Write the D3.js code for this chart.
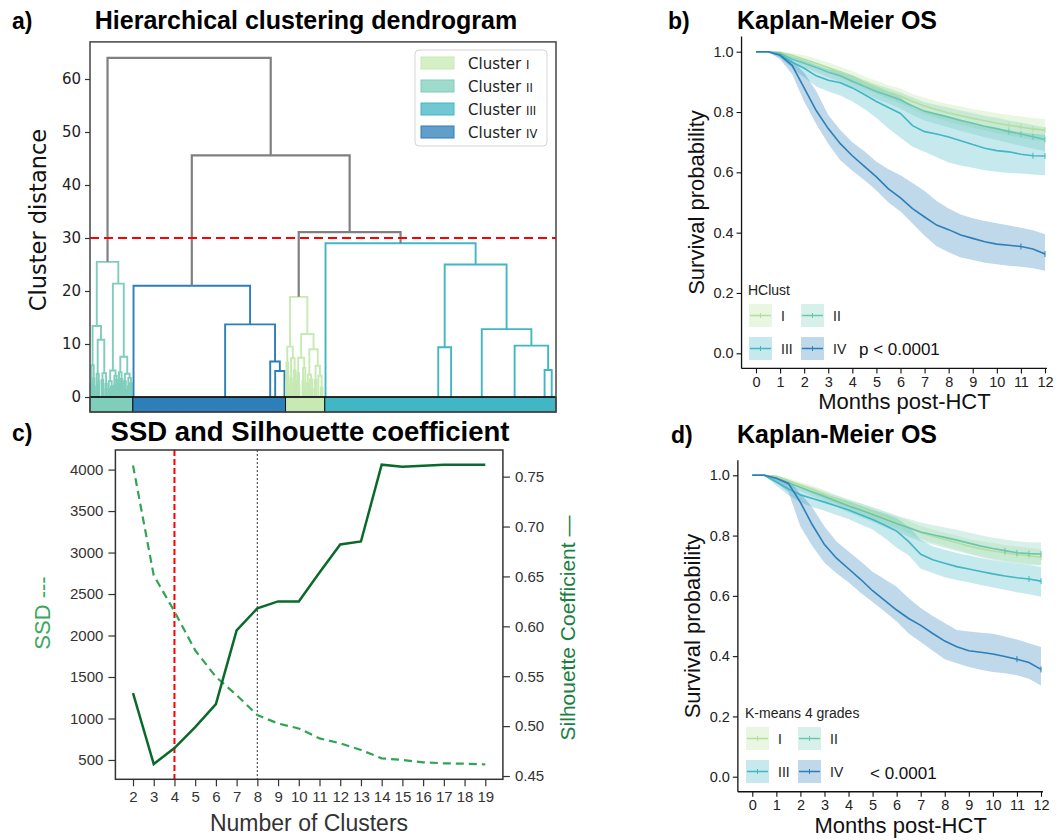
<!DOCTYPE html>
<html>
<head>
<meta charset="utf-8">
<script src="https://cdn.jsdelivr.net/npm/d3@7"></script>
<style>
  body { margin: 0; background: #fff; }
  text { font-family: "Liberation Sans", Arial, sans-serif; }
  .mpl text { font-family: "DejaVu Sans", sans-serif; }
</style>
</head>
<body>
<svg id="fig" width="1057" height="840"></svg>
<script>
// ---------- data: a) dendrogram ----------
// internal node = [height, left, right]; leaf = position along the leaf axis (0-100)
const clusterII = [25.5,
  [13.4, [6.0, [2.5, 0.15, 0.45], [3.5, 0.65, [1.5, 0.85, 1.05]]],
         [10.8, [4.4, [2.0, 1.3, 1.55], [3.0, 1.75, 2.0]],
                [4.5, [3.2, 2.5, [1.4, 2.75, 2.95]], [2.5, 3.3, 3.6]]]],
  [21.4, [5.0, [3.0, [1.5, 3.9, 4.15], [2.0, 4.5, 4.8]], [4.0, [2.2, 5.1, 5.35], [3.2, 5.6, 5.85]]],
         [7.6, [4.7, [2.4, 6.1, 6.35], [3.4, 6.6, [1.6, 6.85, 7.05]]],
               [4.4, [3.0, 7.3, [1.4, 7.55, 7.8]], [3.6, [2.0, 8.1, 8.35], [2.6, 8.6, 8.95]]]]]];
const clusterIV = [21, 9.34, [13.7, 29.0, [6.7, 38.67, [4.9, 39.74, 41.73]]]];
const clusterI = [18.9,
  [9.5, [6.5, [3.0, 42.05, 42.25], [4.0, 42.4, [2.0, 42.55, 42.7]]],
        [7.3, [3.5, 43.0, 43.3], [5.0, [2.5, 43.6, 43.8], [3.0, 44.0, 44.2]]]],
  [11.9, [7.4, [4.5, 44.5, [2.2, 44.75, 44.95]], [5.5, [3.0, 45.6, 45.85], [2.0, 46.1, 46.3]]],
         [9.0, [4.2, [2.6, 46.6, 46.85], [3.3, 47.2, [1.5, 47.5, 47.8]]],
               [5.9, [3.2, 48.2, 48.6], [4.0, 49.0, [1.8, 49.5, 49.9]]]]]];
const clusterIII = [29, 50.54, [25, [9.4, 74.73, 77.49], [12.8, 84.07, [9.7, 91.12, [5.1, 97.55, 99.08]]]]];
const topTree = [64, "II", [45.6, "IV", [31.1, "I", "III"]]];
const cutHeight = 30;
const clusterNames = ["I", "II", "III", "IV"];
const barOrder = ["II", "IV", "I", "III"];
const barEdges = [0, 9.19, 41.96, 50.38, 100];
const distTicks = [0, 10, 20, 30, 40, 50, 60];

// ---------- data: c) SSD and silhouette ----------
const clusterCounts = [2, 3, 4, 5, 6, 7, 8, 9, 10, 11, 12, 13, 14, 15, 16, 17, 18, 19];
const ssd = [4050, 2725, 2290, 1822, 1502, 1281, 1041, 940, 880, 760, 700, 620, 520, 500, 472, 460, 455, 447];
const silhouette = [0.533, 0.462, 0.478, 0.499, 0.522, 0.596, 0.618, 0.625, 0.625, 0.654, 0.682, 0.685, 0.762, 0.760, 0.761, 0.762, 0.762, 0.762];
const ssdTicks = [500, 1000, 1500, 2000, 2500, 3000, 3500, 4000];
const silTicks = [0.45, 0.5, 0.55, 0.6, 0.65, 0.7, 0.75];
const chosenK = 4, elbowK = 8;

// ---------- data: b) and d) Kaplan-Meier ----------
const months = [0, 0.5, 1, 1.5, 2, 2.5, 3, 3.5, 4, 4.5, 5, 5.5, 6, 6.5, 7, 7.5, 8, 8.5, 9, 9.5, 10, 10.5, 11, 11.5, 12];
const monthTicks = [0, 1, 2, 3, 4, 5, 6, 7, 8, 9, 10, 11, 12];
const survTicks = [0, 0.2, 0.4, 0.6, 0.8, 1.0];

const hcI     = [1,1,0.998,0.988,0.975,0.962,0.948,0.932,0.915,0.898,0.882,0.866,0.853,0.835,0.82,0.808,0.797,0.788,0.779,0.771,0.763,0.756,0.75,0.744,0.74];
const hcILo   = [1,1,0.993,0.978,0.962,0.947,0.932,0.914,0.895,0.877,0.86,0.843,0.828,0.81,0.793,0.78,0.768,0.758,0.748,0.739,0.73,0.722,0.715,0.708,0.703];
const hcIHi   = [1,1,1,0.996,0.988,0.977,0.964,0.95,0.935,0.919,0.904,0.889,0.878,0.86,0.847,0.836,0.826,0.818,0.81,0.803,0.796,0.79,0.785,0.78,0.777];
const hcII    = [1,1,0.995,0.975,0.962,0.948,0.932,0.92,0.902,0.885,0.868,0.855,0.84,0.82,0.803,0.793,0.783,0.772,0.763,0.753,0.745,0.735,0.727,0.718,0.709];
const hcIILo  = [1,1,0.99,0.965,0.948,0.932,0.915,0.9,0.88,0.862,0.843,0.828,0.812,0.79,0.772,0.76,0.749,0.737,0.727,0.716,0.707,0.697,0.688,0.679,0.67];
const hcIIHi  = [1,1,1,0.985,0.975,0.963,0.948,0.938,0.922,0.906,0.891,0.879,0.865,0.848,0.832,0.823,0.815,0.805,0.797,0.788,0.781,0.772,0.765,0.757,0.749];
const hcIII   = [1,1,0.99,0.965,0.945,0.92,0.905,0.897,0.88,0.858,0.835,0.815,0.795,0.755,0.735,0.727,0.717,0.705,0.692,0.68,0.672,0.668,0.66,0.655,0.654];
const hcIIILo = [1,1,0.98,0.945,0.915,0.885,0.868,0.855,0.835,0.81,0.78,0.745,0.715,0.685,0.668,0.65,0.633,0.623,0.615,0.607,0.602,0.598,0.596,0.593,0.59];
const hcIIIHi = [1,1,1,0.985,0.972,0.955,0.942,0.935,0.922,0.902,0.885,0.868,0.85,0.815,0.8,0.795,0.785,0.775,0.765,0.753,0.745,0.74,0.733,0.728,0.725];
const hcIV    = [1,1,0.988,0.955,0.88,0.805,0.745,0.695,0.655,0.62,0.585,0.545,0.515,0.48,0.452,0.425,0.41,0.392,0.381,0.37,0.362,0.358,0.354,0.346,0.329];
const hcIVLo  = [1,1,0.975,0.925,0.835,0.76,0.695,0.64,0.605,0.575,0.54,0.5,0.47,0.43,0.39,0.355,0.335,0.318,0.309,0.3,0.295,0.29,0.287,0.282,0.274];
const hcIVHi  = [1,1,0.995,0.97,0.93,0.87,0.79,0.74,0.7,0.67,0.635,0.61,0.59,0.565,0.538,0.505,0.48,0.46,0.448,0.439,0.431,0.424,0.416,0.408,0.395];

const kmI     = [1,1,0.995,0.982,0.968,0.953,0.937,0.92,0.905,0.89,0.875,0.86,0.845,0.828,0.81,0.798,0.787,0.776,0.765,0.756,0.749,0.743,0.737,0.733,0.728];
const kmILo   = [1,1,0.99,0.973,0.957,0.94,0.922,0.905,0.888,0.872,0.856,0.84,0.825,0.807,0.789,0.776,0.764,0.752,0.741,0.731,0.723,0.716,0.71,0.706,0.702];
const kmIHi   = [1,1,1,0.99,0.978,0.965,0.951,0.935,0.921,0.907,0.893,0.879,0.865,0.849,0.832,0.82,0.81,0.8,0.789,0.781,0.775,0.769,0.764,0.76,0.755];
const kmII    = [1,1,0.99,0.975,0.96,0.945,0.93,0.914,0.898,0.885,0.87,0.855,0.84,0.826,0.812,0.803,0.794,0.785,0.775,0.765,0.757,0.75,0.743,0.74,0.739];
const kmIILo  = [1,1,0.983,0.965,0.947,0.93,0.913,0.895,0.877,0.862,0.845,0.828,0.812,0.796,0.78,0.77,0.759,0.749,0.738,0.728,0.719,0.712,0.705,0.702,0.7];
const kmIIHi  = [1,1,0.997,0.985,0.972,0.96,0.946,0.932,0.918,0.907,0.894,0.881,0.867,0.855,0.843,0.835,0.827,0.819,0.81,0.801,0.793,0.787,0.781,0.778,0.777];
const kmIII   = [1,1,0.978,0.955,0.935,0.923,0.911,0.898,0.885,0.869,0.853,0.835,0.815,0.78,0.738,0.72,0.708,0.697,0.689,0.681,0.673,0.666,0.66,0.656,0.649];
const kmIIILo = [1,1,0.965,0.935,0.91,0.895,0.882,0.868,0.855,0.837,0.82,0.792,0.76,0.735,0.69,0.676,0.662,0.653,0.645,0.636,0.628,0.62,0.612,0.605,0.597];
const kmIIIHi = [1,1,0.99,0.972,0.958,0.948,0.938,0.926,0.914,0.9,0.886,0.873,0.858,0.83,0.785,0.765,0.753,0.742,0.734,0.726,0.718,0.712,0.706,0.702,0.696];
const kmIV    = [1,1,0.99,0.973,0.91,0.835,0.77,0.725,0.69,0.655,0.617,0.585,0.553,0.525,0.502,0.475,0.45,0.431,0.418,0.413,0.407,0.399,0.39,0.379,0.356];
const kmIVLo  = [1,1,0.975,0.945,0.83,0.765,0.71,0.675,0.645,0.61,0.58,0.548,0.515,0.475,0.447,0.418,0.39,0.376,0.364,0.355,0.347,0.343,0.337,0.325,0.303];
const kmIVHi  = [1,1,1,0.985,0.94,0.893,0.83,0.78,0.747,0.715,0.68,0.655,0.63,0.592,0.56,0.533,0.51,0.487,0.482,0.478,0.474,0.465,0.455,0.443,0.43];

// censoring marks (months) drawn on each curve
const censorI = [10.5, 11, 11.5, 12];
const censorII = [10.5, 11, 11.5, 12];
const censorIII = [11.5, 12];
const censorIV = [11, 12];

const clusterColor = { I: "#c7e9b4", II: "#7fcdbb", III: "#41b6c4", IV: "#2c7fb8" };
const lineColor = { I: "#b2df9d", II: "#6cc5ad", III: "#41b6c4", IV: "#2c7fb8" };

const svg = d3.select("#fig");

// ================= a) dendrogram =================
const gA = svg.append("g").attr("class", "mpl");
const ax = d3.scaleLinear().domain([0, 100]).range([90, 556]);
const ay = d3.scaleLinear().domain([0, 60]).range([397, 79]);
const trees = { I: clusterI, II: clusterII, III: clusterIII, IV: clusterIV };

const links = [];
function walk(node, color) {
  if (typeof node === "string") return walk(trees[node], clusterColor[node]);
  if (typeof node === "number") return { x: node, h: 0 };
  const l = walk(node[1], color), r = walk(node[2], color);
  links.push({ l, r, h: node[0], color });
  return { x: (l.x + r.x) / 2, h: node[0] };
}
walk(topTree, "#808080");

gA.selectAll("path.link").data(links).enter().append("path")
  .attr("class", "link")
  .attr("d", d => `M${ax(d.l.x)},${ay(d.l.h)}V${ay(d.h)}H${ax(d.r.x)}V${ay(d.r.h)}`)
  .attr("fill", "none")
  .attr("stroke", d => d.color)
  .attr("stroke-width", d => d.color === "#808080" ? 2.2 : 1.9);

// colour bar under the leaves
gA.selectAll("rect.bar").data(barOrder).enter().append("rect")
  .attr("class", "bar")
  .attr("x", (d, i) => ax(barEdges[i]))
  .attr("width", (d, i) => ax(barEdges[i + 1]) - ax(barEdges[i]))
  .attr("y", ay(0)).attr("height", 15)
  .attr("fill", d => clusterColor[d])
  .attr("stroke", "#111").attr("stroke-width", 1);

gA.append("line").attr("x1", ax(0)).attr("x2", ax(100)).attr("y1", ay(0)).attr("y2", ay(0))
  .attr("stroke", "#111").attr("stroke-width", 1.5);

gA.append("line").attr("x1", ax(0)).attr("x2", ax(100)).attr("y1", ay(cutHeight)).attr("y2", ay(cutHeight))
  .attr("stroke", "#ff0000").attr("stroke-width", 2).attr("stroke-dasharray", "9,5");

gA.append("rect").attr("x", ax(0)).attr("y", ay(67)).attr("width", ax(100) - ax(0)).attr("height", ay(0) + 15 - ay(67))
  .attr("fill", "none").attr("stroke", "#444").attr("stroke-width", 1.5);

const aAxis = gA.append("g").attr("transform", `translate(${ax(0)},0)`)
  .call(d3.axisLeft(ay).tickValues(distTicks).tickSize(5).tickPadding(4));
aAxis.select(".domain").remove();
aAxis.selectAll("line").attr("stroke", "#333").attr("stroke-width", 1.2);
aAxis.selectAll("text").attr("font-size", 15).attr("fill", "#222");

gA.append("text").attr("transform", `translate(38,220) rotate(-90)`)
  .attr("text-anchor", "middle").attr("dominant-baseline", "central")
  .attr("font-size", 22.5).attr("fill", "#111").text("Cluster distance");

// legend
const legA = gA.append("g");
legA.append("rect").attr("x", 415).attr("y", 50).attr("width", 132).attr("height", 96).attr("rx", 4)
  .attr("fill", "#fff").attr("fill-opacity", 0.85).attr("stroke", "#d5d5d5").attr("stroke-width", 1);
clusterNames.forEach((c, i) => {
  const cy = 63 + i * 23;
  legA.append("rect").attr("x", 421).attr("y", cy - 6).attr("width", 33).attr("height", 12)
    .attr("fill", clusterColor[c]).attr("fill-opacity", 0.75).attr("stroke", clusterColor[c]).attr("stroke-width", 1);
  const t = legA.append("text").attr("x", 468).attr("y", cy + 5.5).attr("font-size", 15).attr("fill", "#222");
  t.append("tspan").text("Cluster ");
  t.append("tspan").attr("font-size", 11.5).text(c);
});

// ================= c) SSD and silhouette =================
const gC = svg.append("g");
const cx = d3.scaleLinear().domain([1.15, 19.85]).range([115.4, 502.9]);
const cyL = d3.scaleLinear().domain([267, 4236]).range([779.3, 450]);
const cyR = d3.scaleLinear().domain([0.4467, 0.7767]).range([779.3, 450]);

gC.append("line").attr("x1", cx(chosenK)).attr("x2", cx(chosenK)).attr("y1", 450).attr("y2", 779.3)
  .attr("stroke", "#ff0000").attr("stroke-width", 2).attr("stroke-dasharray", "6,3");
gC.append("line").attr("x1", cx(elbowK)).attr("x2", cx(elbowK)).attr("y1", 450).attr("y2", 779.3)
  .attr("stroke", "#555").attr("stroke-width", 1.2).attr("stroke-dasharray", "2,2");

gC.append("path").datum(ssd)
  .attr("d", d3.line().x((d, i) => cx(clusterCounts[i])).y(d => cyL(d)))
  .attr("fill", "none").attr("stroke", "#31a354").attr("stroke-width", 2.2).attr("stroke-dasharray", "8,5");
gC.append("path").datum(silhouette)
  .attr("d", d3.line().x((d, i) => cx(clusterCounts[i])).y(d => cyR(d)))
  .attr("fill", "none").attr("stroke", "#0b6a2b").attr("stroke-width", 2.5);

gC.append("rect").attr("x", 115.4).attr("y", 450).attr("width", 502.9 - 115.4).attr("height", 779.3 - 450)
  .attr("fill", "none").attr("stroke", "#333").attr("stroke-width", 1.5);

function styleC(g) {
  g.select(".domain").remove();
  g.selectAll("line").attr("stroke", "#333").attr("stroke-width", 1.2);
  g.selectAll("text").attr("font-size", 15).attr("fill", "#333");
}
gC.append("g").attr("transform", "translate(0,779.3)")
  .call(d3.axisBottom(cx).tickValues(clusterCounts).tickSize(7).tickPadding(5)).call(styleC);
gC.append("g").attr("transform", "translate(115.4,0)")
  .call(d3.axisLeft(cyL).tickValues(ssdTicks).tickFormat(d3.format("d")).tickSize(7).tickPadding(5)).call(styleC);
gC.append("g").attr("transform", "translate(502.9,0)")
  .call(d3.axisRight(cyR).tickValues(silTicks).tickFormat(d3.format(".2f")).tickSize(7).tickPadding(5)).call(styleC);

gC.append("text").attr("transform", "translate(42,613) rotate(-90)")
  .attr("text-anchor", "middle").attr("dominant-baseline", "central")
  .attr("font-size", 22).attr("fill", "#3aa85f").text("SSD ---");
gC.append("text").attr("transform", "translate(567,628) rotate(-90)")
  .attr("text-anchor", "middle").attr("dominant-baseline", "central")
  .attr("font-size", 21).attr("fill", "#1a8040").text("Silhouette Coefficient \u2014");
gC.append("text").attr("x", 309).attr("y", 831).attr("text-anchor", "middle")
  .attr("font-size", 23).attr("fill", "#333").text("Number of Clusters");

// ================= b) and d) Kaplan-Meier =================
function drawKM(o) {
  const g = svg.append("g");
  const x = d3.scaleLinear().domain([0, 12]).range(o.xr);
  const y = d3.scaleLinear().domain([0, 1]).range(o.yr);
  const groups = [
    { k: "I", est: o.s[0], lo: o.s[1], hi: o.s[2], cens: censorI },
    { k: "II", est: o.s[3], lo: o.s[4], hi: o.s[5], cens: censorII },
    { k: "III", est: o.s[6], lo: o.s[7], hi: o.s[8], cens: censorIII },
    { k: "IV", est: o.s[9], lo: o.s[10], hi: o.s[11], cens: censorIV }
  ];
  const band = d3.area().x((d, i) => x(months[i])).y0(d => y(d[0])).y1(d => y(d[1]));
  const line = d3.line().x((d, i) => x(months[i])).y(d => y(d));

  groups.forEach(gr => {
    g.append("path").datum(gr.lo.map((v, i) => [v, gr.hi[i]]))
      .attr("d", band).attr("fill", clusterColor[gr.k]).attr("fill-opacity", gr.k === "I" ? 0.4 : 0.3);
  });
  groups.forEach(gr => {
    g.append("path").datum(gr.est).attr("d", line)
      .attr("fill", "none").attr("stroke", lineColor[gr.k]).attr("stroke-width", 1.6);
    gr.cens.forEach(m => {
      const v = gr.est[months.indexOf(m)];
      g.append("line").attr("x1", x(m)).attr("x2", x(m)).attr("y1", y(v) - 3).attr("y2", y(v) + 3)
        .attr("stroke", lineColor[gr.k]).attr("stroke-width", 1);
    });
  });

  const xAxisY = y(-0.05);
  const yAxisX = x(-0.6);
  g.append("line").attr("x1", yAxisX).attr("x2", yAxisX).attr("y1", y(1.05)).attr("y2", xAxisY)
    .attr("stroke", "#111").attr("stroke-width", 1.3);
  g.append("line").attr("x1", yAxisX).attr("x2", x(12.08)).attr("y1", xAxisY).attr("y2", xAxisY)
    .attr("stroke", "#111").attr("stroke-width", 1.3);

  const ya = g.append("g").attr("transform", `translate(${yAxisX},0)`)
    .call(d3.axisLeft(y).tickValues(survTicks).tickFormat(d3.format(".1f")).tickSize(5).tickPadding(3));
  const xa = g.append("g").attr("transform", `translate(0,${xAxisY})`)
    .call(d3.axisBottom(x).tickValues(monthTicks).tickSize(5).tickPadding(3));
  [ya, xa].forEach(a => {
    a.select(".domain").remove();
    a.selectAll("line").attr("stroke", "#111").attr("stroke-width", 1.1);
    a.selectAll("text").attr("font-size", 14.5).attr("fill", "#222");
  });

  g.append("text").attr("x", (o.xr[0] + o.xr[1]) / 2 + 4).attr("y", xAxisY + 41).attr("text-anchor", "middle")
    .attr("font-size", 22).attr("fill", "#111").text("Months post-HCT");
  g.append("text").attr("transform", `translate(${yAxisX - 45},${(y(0) + y(1)) / 2}) rotate(-90)`)
    .attr("text-anchor", "middle").attr("dominant-baseline", "central")
    .attr("font-size", 22).attr("fill", "#111").text("Survival probability");

  // legend
  g.append("text").attr("x", o.leg[0]).attr("y", o.leg[1]).attr("font-size", 14).attr("fill", "#222").text(o.title);
  groups.forEach((gr, i) => {
    const kx = o.leg[0] + 1 + (i % 2) * 52;
    const ky = o.leg[1] + 9 + Math.floor(i / 2) * 33;
    g.append("rect").attr("x", kx).attr("y", ky).attr("width", 23).attr("height", 23)
      .attr("fill", clusterColor[gr.k]).attr("fill-opacity", gr.k === "I" ? 0.4 : 0.3);
    g.append("line").attr("x1", kx + 1).attr("x2", kx + 22).attr("y1", ky + 11.5).attr("y2", ky + 11.5)
      .attr("stroke", lineColor[gr.k]).attr("stroke-width", 1.5);
    g.append("line").attr("x1", kx + 11.5).attr("x2", kx + 11.5).attr("y1", ky + 9).attr("y2", ky + 14)
      .attr("stroke", lineColor[gr.k]).attr("stroke-width", 1);
    g.append("text").attr("x", kx + 32).attr("y", ky + 16.5).attr("font-size", 14).attr("fill", "#222").text(gr.k);
  });
  g.append("text").attr("x", o.p[0]).attr("y", o.p[1]).attr("font-size", 17).attr("fill", "#111").text(o.pText);
}

drawKM({
  xr: [756, 1045], yr: [353.3, 51.7],
  s: [hcI, hcILo, hcIHi, hcII, hcIILo, hcIIHi, hcIII, hcIIILo, hcIIIHi, hcIV, hcIVLo, hcIVHi],
  title: "HClust", leg: [748, 295], p: [859, 355], pText: "p < 0.0001"
});
drawKM({
  xr: [752.3, 1041], yr: [776.7, 475.3],
  s: [kmI, kmILo, kmIHi, kmII, kmIILo, kmIIHi, kmIII, kmIIILo, kmIIIHi, kmIV, kmIVLo, kmIVHi],
  title: "K-means 4 grades", leg: [745, 718], p: [870, 779], pText: "< 0.0001"
});

// ================= titles =================
const titles = [
  { tag: "a)", tx: 12, title: "Hierarchical clustering dendrogram", cx: 306, y: 29, size: 25 },
  { tag: "b)", tx: 668, title: "Kaplan-Meier OS", cx: 837, y: 29, size: 25 },
  { tag: "c)", tx: 12, title: "SSD and Silhouette coefficient", cx: 310, y: 441, size: 27.5 },
  { tag: "d)", tx: 671, title: "Kaplan-Meier OS", cx: 837, y: 443, size: 25 }
];
titles.forEach(t => {
  svg.append("text").attr("x", t.tx).attr("y", t.y).attr("font-size", 23).attr("font-weight", "bold")
    .attr("fill", "#000").text(t.tag);
  svg.append("text").attr("x", t.cx).attr("y", t.y).attr("text-anchor", "middle").attr("font-size", t.size)
    .attr("font-weight", "bold").attr("fill", "#000").text(t.title);
});
</script>
</body>
</html>
